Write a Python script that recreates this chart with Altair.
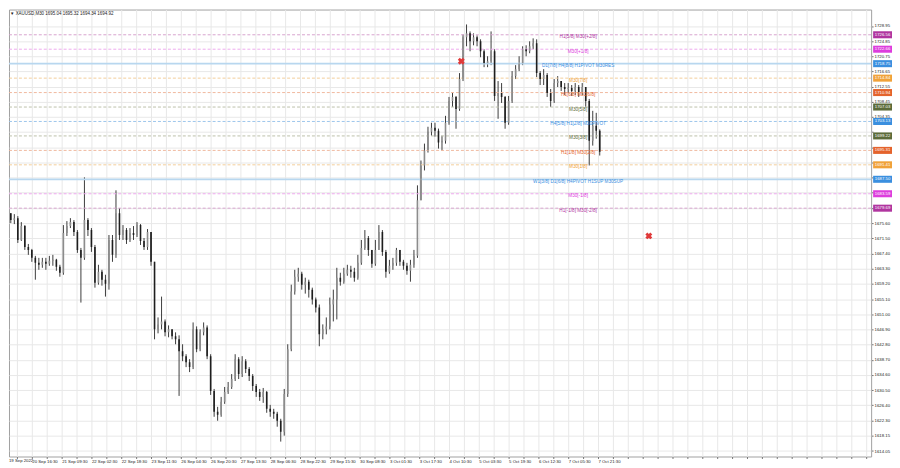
import altair as alt
import pandas as pd

# ---------------- data ----------------
title_text = "\u25bc XAUUSD,M30  1695.04 1695.32 1694.34 1694.92"
first_open = 1675.93
close = [1676.47, 1678.35, 1676.47, 1677.00, 1671.10, 1674.86, 1669.22, 1668.41, 1666.26, 1664.92,
         1664.39, 1665.19, 1664.65, 1665.46, 1665.73, 1663.85, 1662.24, 1672.98, 1674.86, 1675.93,
         1673.24, 1668.41, 1666.26, 1676.47, 1673.78, 1669.22, 1659.55, 1662.51, 1660.36, 1659.28,
         1671.10, 1667.07, 1678.35, 1672.44, 1673.78, 1671.10, 1672.98, 1672.44, 1675.12, 1670.83,
         1669.22, 1673.24, 1665.19, 1646.94, 1648.28, 1649.08, 1646.13, 1646.94, 1645.06, 1644.25,
         1641.03, 1639.69, 1638.08, 1636.73, 1646.94, 1641.57, 1646.13, 1647.47, 1639.69, 1630.29,
         1624.65, 1623.85, 1627.34, 1630.02, 1631.37, 1633.51, 1638.88, 1634.85, 1638.34, 1636.20,
         1634.32, 1631.63, 1630.02, 1628.68, 1630.02, 1625.46, 1624.65, 1624.12, 1622.24, 1619.28,
         1629.49, 1641.57, 1657.14, 1661.16, 1661.97, 1659.02, 1659.82, 1657.67, 1654.99, 1652.84,
         1645.59, 1646.94, 1647.74, 1653.65, 1654.99, 1660.90, 1659.82, 1661.97, 1663.04, 1662.51,
         1660.90, 1664.92, 1668.95, 1671.63, 1668.41, 1664.65, 1668.41, 1673.24, 1667.88, 1662.51,
         1664.12, 1664.92, 1668.41, 1665.19, 1664.12, 1662.77, 1664.39, 1666.80, 1681.84, 1691.23,
         1695.26, 1700.36, 1701.43, 1700.63, 1697.41, 1697.94, 1702.78, 1708.68, 1709.76, 1706.53,
         1714.59, 1725.86, 1726.94, 1724.79, 1725.86, 1724.79, 1722.10, 1718.88, 1719.42, 1722.10,
         1710.02, 1710.83, 1709.76, 1702.78, 1708.68, 1715.39, 1717.27, 1718.88, 1722.64, 1722.10,
         1723.45, 1724.25, 1716.20, 1714.59, 1715.66, 1710.83, 1708.68, 1713.51, 1714.05, 1712.44,
         1711.90, 1712.17, 1711.37, 1712.44, 1711.10, 1712.44, 1708.68, 1697.94, 1701.97, 1700.63,
         1694.92]
high = [1678.08, 1679.42, 1678.35, 1678.08, 1677.54, 1675.93, 1675.12, 1670.02, 1668.68, 1666.80,
        1666.26, 1666.26, 1666.26, 1666.80, 1667.07, 1666.00, 1664.39, 1675.12, 1676.20, 1677.00,
        1676.47, 1673.78, 1668.95, 1688.01, 1677.00, 1674.32, 1669.75, 1664.39, 1663.04, 1661.70,
        1672.44, 1672.44, 1684.52, 1679.69, 1675.12, 1674.32, 1674.32, 1674.86, 1675.93, 1675.39,
        1671.63, 1674.05, 1673.24, 1665.19, 1650.16, 1655.79, 1649.62, 1648.01, 1646.94, 1646.13,
        1645.32, 1642.91, 1640.22, 1638.88, 1648.81, 1647.74, 1646.94, 1648.81, 1648.01, 1640.22,
        1630.83, 1626.00, 1628.68, 1631.37, 1632.71, 1634.85, 1640.22, 1639.42, 1639.69, 1638.88,
        1636.73, 1634.85, 1632.17, 1630.83, 1631.10, 1630.29, 1626.53, 1625.46, 1624.65, 1622.77,
        1630.83, 1642.91, 1659.02, 1663.04, 1663.58, 1662.51, 1660.90, 1660.36, 1658.21, 1655.53,
        1653.65, 1648.28, 1650.16, 1655.53, 1657.67, 1663.58, 1662.24, 1663.58, 1664.39, 1664.12,
        1663.58, 1667.07, 1671.10, 1673.78, 1672.17, 1668.41, 1671.10, 1675.12, 1673.78, 1668.41,
        1665.73, 1666.26, 1668.95, 1668.41, 1665.73, 1664.92, 1665.73, 1668.41, 1685.86, 1692.57,
        1697.14, 1701.70, 1702.78, 1702.78, 1701.20, 1699.29, 1704.65, 1709.76, 1710.83, 1710.02,
        1716.20, 1726.67, 1729.35, 1727.47, 1726.94, 1726.40, 1725.33, 1722.64, 1720.76, 1727.47,
        1722.64, 1714.05, 1713.51, 1710.02, 1710.02, 1716.74, 1718.35, 1720.76, 1723.45, 1723.72,
        1724.79, 1725.59, 1725.33, 1716.74, 1717.27, 1716.20, 1711.90, 1714.59, 1715.39, 1714.05,
        1713.51, 1713.51, 1712.98, 1713.51, 1712.98, 1713.51, 1712.44, 1709.22, 1706.00, 1705.46,
        1701.00]
low = [1675.39, 1676.20, 1675.66, 1675.39, 1670.29, 1670.83, 1668.41, 1667.07, 1665.19, 1660.36,
       1663.04, 1663.58, 1663.04, 1664.12, 1664.12, 1662.77, 1661.16, 1661.70, 1672.17, 1674.32,
       1672.17, 1667.61, 1654.18, 1665.73, 1672.17, 1667.88, 1658.21, 1659.02, 1658.75, 1655.79,
       1657.67, 1665.19, 1666.26, 1671.10, 1671.10, 1670.02, 1670.56, 1671.10, 1671.90, 1669.75,
       1668.41, 1668.41, 1664.12, 1644.25, 1645.86, 1646.94, 1645.06, 1644.79, 1644.25, 1642.91,
       1628.95, 1638.34, 1636.73, 1635.39, 1636.20, 1640.76, 1641.03, 1645.32, 1638.88, 1629.22,
       1623.31, 1622.24, 1623.31, 1626.80, 1629.49, 1630.83, 1632.98, 1633.51, 1634.05, 1635.12,
       1632.98, 1630.29, 1628.68, 1627.61, 1627.07, 1624.39, 1623.31, 1622.77, 1620.63, 1616.60,
       1618.21, 1628.68, 1641.03, 1656.33, 1659.82, 1657.67, 1656.60, 1655.53, 1653.65, 1651.50,
       1642.37, 1644.25, 1645.59, 1646.94, 1649.08, 1649.62, 1658.75, 1659.28, 1661.43, 1660.90,
       1659.82, 1660.36, 1664.39, 1668.41, 1666.80, 1663.58, 1664.12, 1668.41, 1666.80, 1660.90,
       1661.97, 1663.04, 1664.12, 1664.12, 1663.04, 1661.70, 1659.82, 1663.58, 1666.26, 1681.84,
       1689.89, 1694.72, 1699.29, 1699.02, 1695.80, 1695.26, 1697.14, 1702.24, 1707.07, 1701.16,
       1706.00, 1714.05, 1723.45, 1722.10, 1723.72, 1723.45, 1720.49, 1717.81, 1717.81, 1718.35,
       1708.68, 1703.85, 1708.14, 1701.16, 1702.24, 1708.14, 1714.59, 1716.74, 1718.35, 1720.76,
       1721.57, 1722.64, 1715.12, 1712.98, 1712.98, 1709.76, 1707.07, 1708.14, 1712.44, 1711.37,
       1710.29, 1710.83, 1710.02, 1710.29, 1709.76, 1710.29, 1707.07, 1691.23, 1696.60, 1698.48,
       1693.92]

levels = [1726.56, 1722.66, 1718.75, 1714.84, 1710.94, 1707.03, 1703.13,
          1699.22, 1695.31, 1691.41, 1687.50, 1683.59, 1679.69]
level_names = ["H1[5/8] M30[+2/8]", "M30[+1/8]", "D1[7/8] H4[8/8] H1PIVOT M30RES",
               "M30[7/8]", "H1[6/8] M30[6/8]", "M30[5/8]", "H4[5/8] H1[2/8] M30PIVOT",
               "M30[3/8]", "H1[1/8] M30[2/8]", "M30[1/8]",
               "W1[3/8] D1[6/8] H4PIVOT H1SUP M30SUP", "M30[-1/8]", "H1[-1/8] M30[-2/8]"]
level_kinds = ["p2", "p1", "blue", "orange", "ored", "olive", "blue",
               "olive", "ored", "orange", "blue", "p1", "p2"]

y_ticks = [1728.95, 1724.85, 1720.75, 1716.65, 1712.55, 1708.45, 1704.35, 1700.25, 1696.15,
           1692.05, 1687.95, 1683.85, 1679.75, 1675.60, 1671.50, 1667.40, 1663.30, 1659.20,
           1655.10, 1651.00, 1646.90, 1642.80, 1638.70, 1634.60, 1630.50, 1626.40, 1622.30,
           1618.15, 1614.05]
first_x_label = "19 Sep 2022"
x_labels = ["20 Sep 16:30", "21 Sep 09:30", "22 Sep 02:30", "22 Sep 18:30", "23 Sep 11:30",
            "26 Sep 04:30", "26 Sep 20:30", "27 Sep 13:30", "28 Sep 06:30", "28 Sep 22:30",
            "29 Sep 15:30", "30 Sep 08:30", "3 Oct 01:30", "3 Oct 17:30", "4 Oct 10:30",
            "5 Oct 03:30", "5 Oct 19:30", "6 Oct 12:30", "7 Oct 05:30", "7 Oct 21:30"]

signal_bar = [524, 738]
signal_price = [1719.4, 1672.2]

# ---------------- styles ----------------
text_palette = {"p2": "#b0359f", "p1": "#dd3ddd", "blue": "#3a8fdf",
                "orange": "#f0a23a", "ored": "#e4632c", "olive": "#5c6b3a"}
line_palette = {"p2": "#d8a4cf", "p1": "#eeaaee", "blue": "#9cc6ec",
                "orange": "#f3cf9a", "ored": "#f0b89e", "olive": "#bcc1aa"}
FONT = "Liberation Sans"
W, H = 868, 450
BARS_PER_CANDLE = 4
LABEL_STEP = 34
BOX_HALF = 0.95

# ---------------- tables ----------------
n = len(close)
opens = [first_open] + close[:-1]
df = pd.DataFrame({"idx": range(n), "open": opens, "high": high, "low": low, "close": close})
df["bar"] = df["idx"] * BARS_PER_CANDLE + BARS_PER_CANDLE / 2
df["high"] = df[["high", "open", "close"]].max(axis=1)
df["low"] = df[["low", "open", "close"]].min(axis=1)
df["dir"] = ["up" if c >= o else "down" for o, c in zip(df["open"], df["close"])]

lv = pd.DataFrame({"level": levels, "name": level_names, "kind": level_kinds})
lv["tcol"] = lv["kind"].map(text_palette)
lv["lcol"] = lv["kind"].map(line_palette)
lv["lab"] = [f"{v:.2f}" for v in levels]
lv["major"] = lv["name"].str.contains("D1")

sig = pd.DataFrame({"bar": signal_bar, "price": signal_price})

xsc = alt.Scale(domain=[7.93, 991.67], nice=False, zero=False)
ysc = alt.Scale(domain=[1612.57, 1733.38], nice=False, zero=False)

labels_js = "[" + ",".join(["''"] + [f"'{s}'" for s in x_labels]) + "]"
label_expr = (f"(datum.value % {LABEL_STEP} == 0 && datum.value <= {LABEL_STEP * len(x_labels)})"
              f" ? {labels_js}[datum.value / {LABEL_STEP}] : ''")

# tick labels that sit under the coloured level boxes are hidden (as in the reference)
hidden = [t for t in y_ticks if min(abs(t - v) for v in levels) < 1.1]
hidden_js = "[" + ",".join(f"{t}" for t in hidden) + "]"
y_label_expr = f"indexof({hidden_js}, datum.value) >= 0 ? '' : format(datum.value, '.2f')"

x_axis = alt.Axis(values=list(range(17, 992, 17)), labelExpr=label_expr, grid=True,
                  tickCount=500, labelAlign="left", labelFontSize=4.3, labelPadding=1,
                  tickSize=2, labelOverlap=False, title=None, domain=False, labelFont=FONT)
y_axis = alt.Axis(values=y_ticks, orient="right", labelExpr=y_label_expr, grid=True,
                  tickCount=500, labelFontSize=4.3, labelPadding=1, tickSize=2,
                  labelOverlap=False, title=None, domain=False, labelFont=FONT)

base = alt.Chart(df)

wick = base.mark_rule(color="#3c3c3c", strokeWidth=1, clip=True).encode(
    x=alt.X("bar:Q", scale=xsc, axis=x_axis),
    y=alt.Y("low:Q", scale=ysc, axis=y_axis),
    y2="high:Q",
)
body_up = base.transform_filter("datum.dir == 'up'").mark_rule(
    color="#8c8c8c", strokeWidth=1.6, clip=True).encode(
    x=alt.X("bar:Q", scale=xsc, title=None),
    y=alt.Y("open:Q", scale=ysc, title=None),
    y2="close:Q",
)
body_dn = base.transform_filter("datum.dir == 'down'").mark_rule(
    color="#1e1e1e", strokeWidth=1.6, clip=True).encode(
    x=alt.X("bar:Q", scale=xsc, title=None),
    y=alt.Y("open:Q", scale=ysc, title=None),
    y2="close:Q",
)

lvb = alt.Chart(lv)
minor_lines = lvb.transform_filter("!datum.major").mark_rule(
    strokeWidth=1, strokeDash=[3, 2]).encode(
    y=alt.Y("level:Q", scale=ysc, title=None),
    color=alt.Color("lcol:N", scale=None),
)
major_lines = lvb.transform_filter("datum.major").mark_rule(
    strokeWidth=1.8, color="#b8d7ef").encode(
    y=alt.Y("level:Q", scale=ysc, title=None),
)
level_text = lvb.mark_text(align="center", baseline="middle", dy=2.5, fontSize=4.7,
                           font=FONT).encode(
    x=alt.value(573),
    y=alt.Y("level:Q", scale=ysc, title=None),
    text="name:N",
    color=alt.Color("tcol:N", scale=None),
)
boxes = lvb.transform_calculate(lo=f"datum.level - {BOX_HALF}",
                                hi=f"datum.level + {BOX_HALF}").mark_rect().encode(
    x=alt.value(W + 2), x2=alt.value(W + 21),
    y=alt.Y("lo:Q", scale=ysc, title=None), y2="hi:Q",
    color=alt.Color("tcol:N", scale=None),
)
box_text = lvb.mark_text(align="center", baseline="middle", fontSize=4.3, color="white",
                         font=FONT).encode(
    x=alt.value(W + 11.5),
    y=alt.Y("level:Q", scale=ysc, title=None),
    text="lab:N",
)

signals = alt.Chart(sig).mark_point(shape="cross", angle=45, filled=True, size=50,
                                    color="#e03a3a", opacity=1).encode(
    x=alt.X("bar:Q", scale=xsc, title=None),
    y=alt.Y("price:Q", scale=ysc, title=None),
)

title_mark = alt.Chart(pd.DataFrame({"t": [title_text]})).mark_text(
    align="left", baseline="top", fontSize=4.5, color="#222", font=FONT).encode(
    x=alt.value(1), y=alt.value(1), text="t:N")
first_label = alt.Chart(pd.DataFrame({"t": [first_x_label]})).mark_text(
    align="left", baseline="top", fontSize=4.3, color="#222", font=FONT).encode(
    x=alt.value(0), y=alt.value(H + 3), text="t:N")

chart = alt.layer(
    wick, major_lines, minor_lines, body_up, body_dn, level_text, boxes, box_text,
    signals, title_mark, first_label,
).properties(width=W, height=H, padding=0, background="white").configure_view(
    stroke="#a0a0a0", strokeWidth=1
).configure_axis(
    gridColor="#e8e8e8", tickColor="#777", labelColor="#222"
)

chart.save("out.html", embed_options={"renderer": "svg", "actions": False})
